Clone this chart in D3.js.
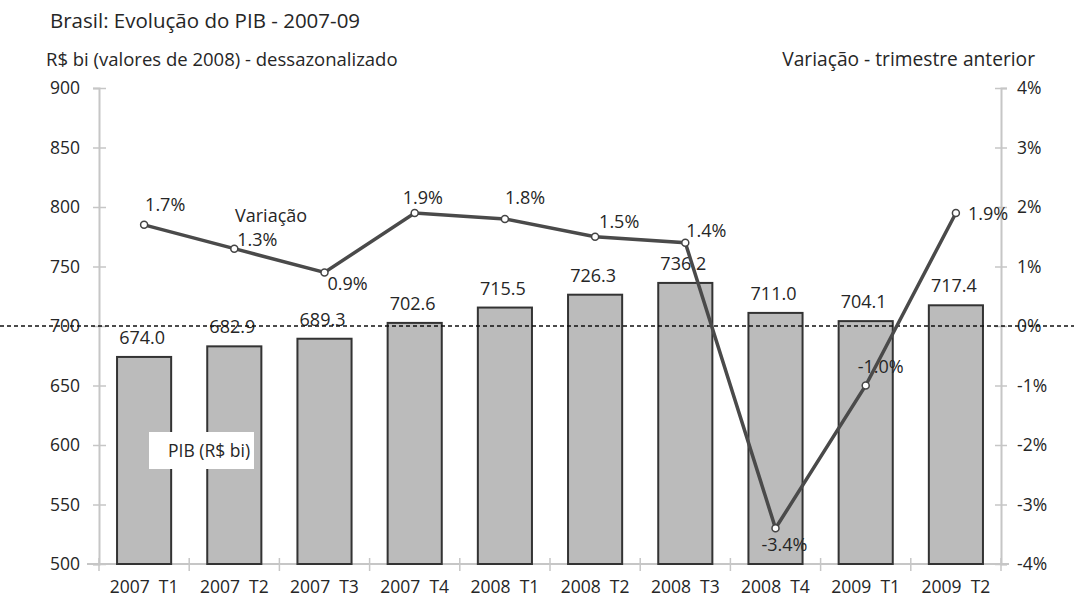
<!DOCTYPE html>
<html>
<head>
<meta charset="utf-8">
<script src="https://cdn.jsdelivr.net/npm/d3@7"></script>
<style>
  body { margin: 0; background: #fff; }
  svg text { font-family: "Open Sans", sans-serif; fill: #262626; }
</style>
</head>
<body>
<div id="chart"></div>
<script>
// quarters and values
var quarters = ["2007  T1", "2007  T2", "2007  T3", "2007  T4", "2008  T1",
                "2008  T2", "2008  T3", "2008  T4", "2009  T1", "2009  T2"];
var pib = [674.0, 682.9, 689.3, 702.6, 715.5, 726.3, 736.2, 711.0, 704.1, 717.4];
var variacao = [1.7, 1.3, 0.9, 1.9, 1.8, 1.5, 1.4, -3.4, -1.0, 1.9];
var leftTicks = [500, 550, 600, 650, 700, 750, 800, 850, 900];
var rightTicks = [-4, -3, -2, -1, 0, 1, 2, 3, 4];
// label nudges for the % labels (dx, dy, anchor)
var pctLabelPos = [[1, -14, "start"], [3, -3, "start"], [3, 18, "start"], [-12, -9, "start"],
                   [0, -15, "start"], [4, -9, "start"], [1, -6, "start"], [9, 23, "middle"],
                   [-8, -13, "start"], [12, 7, "start"]];

var width = 1074, height = 601;
var margin = { left: 99, right: 73, top: 88, bottom: 37 };

var svg = d3.select("#chart").append("svg")
  .attr("width", width)
  .attr("height", height);

var x = d3.scaleBand()
  .domain(quarters)
  .range([margin.left, width - margin.right])
  .paddingInner(0.4)
  .paddingOuter(0.2);
var yLeft = d3.scaleLinear().domain([500, 900]).range([height - margin.bottom, margin.top]);
var yRight = d3.scaleLinear().domain([-4, 4]).range([height - margin.bottom, margin.top]);

// titles
svg.append("text").attr("x", 50).attr("y", 28).style("font-size", "20.5px")
  .text("Brasil: Evolução do PIB - 2007-09");
svg.append("text").attr("x", 46).attr("y", 66).style("font-size", "18.5px")
  .text("R$ bi (valores de 2008) - dessazonalizado");
svg.append("text").attr("x", 1035).attr("y", 66).attr("text-anchor", "end").style("font-size", "19.2px")
  .text("Variação - trimestre anterior");

// axes
var axisColor = "#c6c6c6";
var gL = svg.append("g").attr("transform", "translate(" + margin.left + ",0)")
  .call(d3.axisLeft(yLeft).tickValues(leftTicks).tickSize(6).tickPadding(13));
gL.selectAll("line").attr("x2", 7).attr("x1", -6);
var gR = svg.append("g").attr("transform", "translate(" + (width - margin.right) + ",0)")
  .call(d3.axisRight(yRight).tickValues(rightTicks).tickSize(6).tickPadding(10)
    .tickFormat(function(d) { return d + "%"; }));
gR.selectAll("line").attr("x1", -6).attr("x2", 6);

var step = x.step();
var gB = svg.append("g").attr("transform", "translate(0," + (height - margin.bottom) + ")");
gB.append("line")
  .attr("x1", margin.left - 12).attr("x2", width - margin.right + 8)
  .attr("stroke", axisColor).attr("stroke-width", 2);
gB.selectAll(".btick").data(d3.range(quarters.length + 1)).enter().append("line")
  .attr("x1", function(i) { return margin.left + i * step; })
  .attr("x2", function(i) { return margin.left + i * step; })
  .attr("y1", -6).attr("y2", 7)
  .attr("stroke", axisColor).attr("stroke-width", 1.5);
gB.selectAll(".blabel").data(quarters).enter().append("text")
  .attr("x", function(d) { return x(d) + x.bandwidth() / 2; })
  .attr("y", 29)
  .attr("text-anchor", "middle")
  .style("font-size", "17.5px")
  .style("white-space", "pre")
  .text(function(d) { return d; });

[gL, gR].forEach(function(g) {
  g.select(".domain").attr("stroke", axisColor).attr("stroke-width", 2);
  g.selectAll(".tick line").attr("stroke", axisColor).attr("stroke-width", 1.5);
  g.selectAll("text").style("font-size", "17.5px").attr("fill", "#262626");
});

// bars
svg.selectAll(".bar").data(pib).enter().append("rect")
  .attr("x", function(d, i) { return x(quarters[i]); })
  .attr("y", function(d) { return yLeft(d); })
  .attr("width", x.bandwidth())
  .attr("height", function(d) { return yLeft(500) - yLeft(d); })
  .attr("fill", "#bbbbbb")
  .attr("stroke", "#333")
  .attr("stroke-width", 2);

svg.selectAll(".barlabel").data(pib).enter().append("text")
  .attr("x", function(d, i) { return x(quarters[i]) + x.bandwidth() / 2 - 2; })
  .attr("y", function(d) { return yLeft(d) - 13; })
  .attr("text-anchor", "middle")
  .style("font-size", "18px")
  .text(function(d) { return d.toFixed(1); });

// zero line
svg.append("line")
  .attr("x1", 0).attr("x2", width)
  .attr("y1", yRight(0)).attr("y2", yRight(0))
  .attr("stroke", "#111").attr("stroke-width", 1.4)
  .attr("stroke-dasharray", "4,3");

// variation line
var cx = function(i) { return x(quarters[i]) + x.bandwidth() / 2; };
var line = d3.line()
  .x(function(d, i) { return cx(i); })
  .y(function(d) { return yRight(d); });
svg.append("path").datum(variacao)
  .attr("d", line)
  .attr("fill", "none")
  .attr("stroke", "#4a4a4a")
  .attr("stroke-width", 3.5);
svg.selectAll(".pt").data(variacao).enter().append("circle")
  .attr("cx", function(d, i) { return cx(i); })
  .attr("cy", function(d) { return yRight(d); })
  .attr("r", 3.5)
  .attr("fill", "#fff")
  .attr("stroke", "#444")
  .attr("stroke-width", 1.5);
svg.selectAll(".pctlabel").data(variacao).enter().append("text")
  .attr("x", function(d, i) { return cx(i) + pctLabelPos[i][0]; })
  .attr("y", function(d, i) { return yRight(d) + pctLabelPos[i][1]; })
  .attr("text-anchor", function(d, i) { return pctLabelPos[i][2]; })
  .style("font-size", "18px")
  .text(function(d) { return d.toFixed(1) + "%"; });

svg.append("text").attr("x", 235).attr("y", 222).style("font-size", "18px").text("Variação");

// legend box for the bars
svg.append("rect").attr("x", 149).attr("y", 432).attr("width", 105).attr("height", 37).attr("fill", "#fff");
svg.append("text").attr("x", 168).attr("y", 457).style("font-size", "17.5px").text("PIB (R$ bi)");
</script>
</body>
</html>
